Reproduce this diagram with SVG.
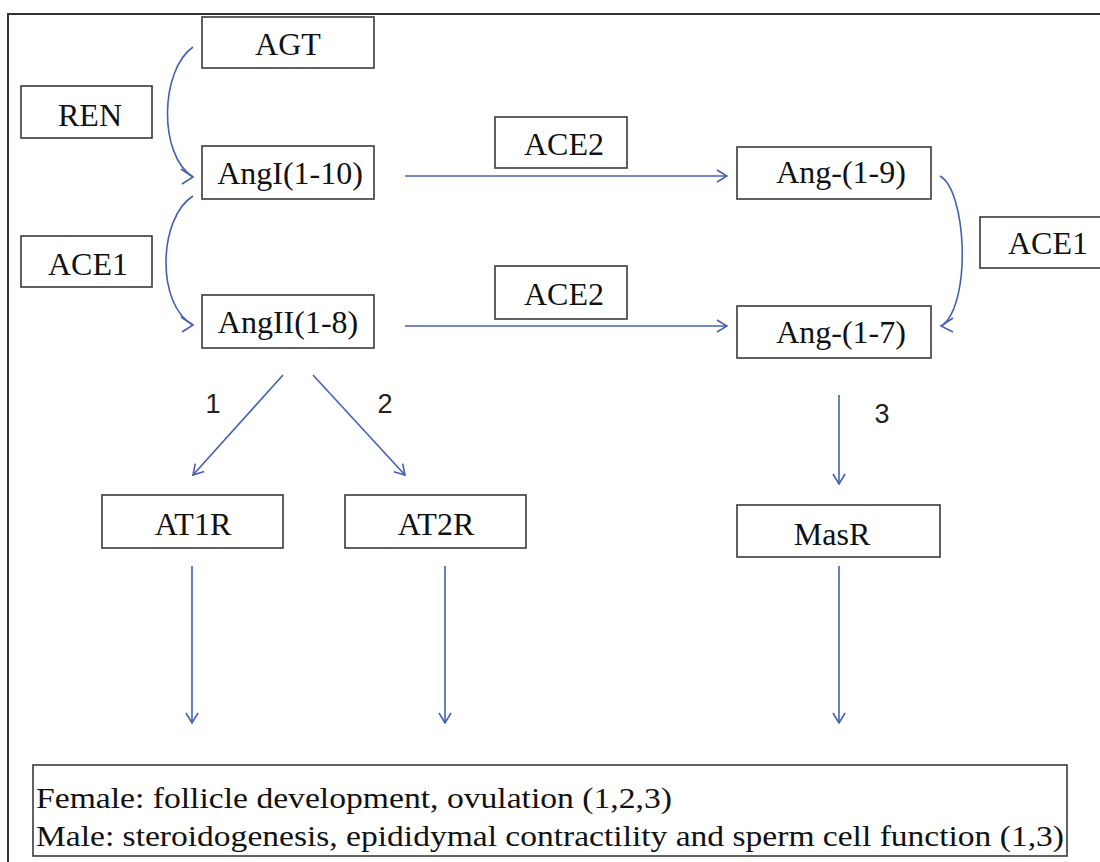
<svg xmlns="http://www.w3.org/2000/svg" width="1100" height="862" viewBox="0 0 1100 862">
<style>
.box{fill:#fff;stroke:#3a3a3a;stroke-width:1.6}
.lbl{font-family:"Liberation Serif","Times New Roman",serif;font-size:32px;fill:#111;text-anchor:middle}
.num{font-family:"Liberation Sans",Arial,sans-serif;font-size:27px;fill:#222;text-anchor:middle}
.ln{fill:none;stroke:#4460b4;stroke-width:1.6}
.head{fill:none;stroke:#4460b4;stroke-width:1.6;stroke-linejoin:miter}
.note{font-family:"Liberation Serif","Times New Roman",serif;font-size:30px;fill:#111}
</style>
<defs>
<marker id="arr" viewBox="0 0 12 14" refX="11" refY="7" markerWidth="12" markerHeight="14" markerUnits="userSpaceOnUse" orient="auto">
<path d="M1,1 L11,7 L1,13" fill="none" stroke="#4460b4" stroke-width="1.6"/>
</marker>
</defs>
<rect x="0" y="0" width="1100" height="862" fill="#fff"/>
<rect x="8" y="14" width="1110" height="870" fill="none" stroke="#333" stroke-width="2"/>

<g id="connectors">
<path class="ln" d="M193,47 C160,70 158,155 193,177"/>
<polyline class="head" points="181,169 193,177 182,184"/>
<path class="ln" d="M193,196 C158,218 156,305 193,325"/>
<polyline class="head" points="181,317 193,325 182,332"/>
<path class="ln" d="M940,176 C966,190 972,300 943,325"/>
<polyline class="head" points="953,318 941,326 953,332"/>
<line class="ln" x1="405" y1="176" x2="727" y2="176" marker-end="url(#arr)"/>
<line class="ln" x1="405" y1="326" x2="727" y2="326" marker-end="url(#arr)"/>
<line class="ln" x1="283" y1="375" x2="193" y2="475" marker-end="url(#arr)"/>
<line class="ln" x1="313" y1="375" x2="405" y2="475" marker-end="url(#arr)"/>
<line class="ln" x1="839" y1="395" x2="839" y2="484" marker-end="url(#arr)"/>
<line class="ln" x1="192" y1="566" x2="192" y2="723" marker-end="url(#arr)"/>
<line class="ln" x1="445" y1="566" x2="445" y2="723" marker-end="url(#arr)"/>
<line class="ln" x1="839" y1="566" x2="839" y2="723" marker-end="url(#arr)"/>
<text class="num" x="213" y="413">1</text>
<text class="num" x="385" y="413">2</text>
<text class="num" x="882" y="423">3</text>
</g>

<g id="agt"><rect class="box" x="202" y="17" width="172" height="51"/><text class="lbl" x="288" y="55">AGT</text></g>
<g id="ren"><rect class="box" x="21" y="86" width="131" height="52"/><text class="lbl" x="90" y="126">REN</text></g>
<g id="angI"><rect class="box" x="202" y="146" width="172" height="53"/><text class="lbl" x="290" y="184">AngI(1-10)</text></g>
<g id="ace1-left"><rect class="box" x="21" y="236" width="131" height="51"/><text class="lbl" x="88" y="275">ACE1</text></g>
<g id="angII"><rect class="box" x="202" y="295" width="172" height="53"/><text class="lbl" x="288" y="333">AngII(1-8)</text></g>
<g id="ace2-top"><rect class="box" x="495" y="117" width="132" height="51"/><text class="lbl" x="564" y="155">ACE2</text></g>
<g id="ace2-bottom"><rect class="box" x="495" y="266" width="132" height="53"/><text class="lbl" x="564" y="305">ACE2</text></g>
<g id="ang19"><rect class="box" x="737" y="147" width="194" height="52"/><text class="lbl" x="841" y="183">Ang-(1-9)</text></g>
<g id="ang17"><rect class="box" x="737" y="306" width="194" height="52"/><text class="lbl" x="841" y="343">Ang-(1-7)</text></g>
<g id="ace1-right"><rect class="box" x="980" y="217" width="140" height="51"/><text class="lbl" x="1048" y="254">ACE1</text></g>
<g id="at1r"><rect class="box" x="102" y="495" width="181" height="53"/><text class="lbl" x="193" y="535">AT1R</text></g>
<g id="at2r"><rect class="box" x="345" y="495" width="181" height="53"/><text class="lbl" x="436" y="535">AT2R</text></g>
<g id="masr"><rect class="box" x="737" y="505" width="203" height="52"/><text class="lbl" x="832" y="545">MasR</text></g>

<g id="effects">
<rect class="box" x="33" y="765" width="1034" height="91"/>
<text class="note" x="36" y="808" textLength="636" lengthAdjust="spacingAndGlyphs">Female: follicle development, ovulation (1,2,3)</text>
<text class="note" x="36" y="846" textLength="1028" lengthAdjust="spacingAndGlyphs">Male: steroidogenesis, epididymal contractility and sperm cell function (1,3)</text>
</g>
</svg>
